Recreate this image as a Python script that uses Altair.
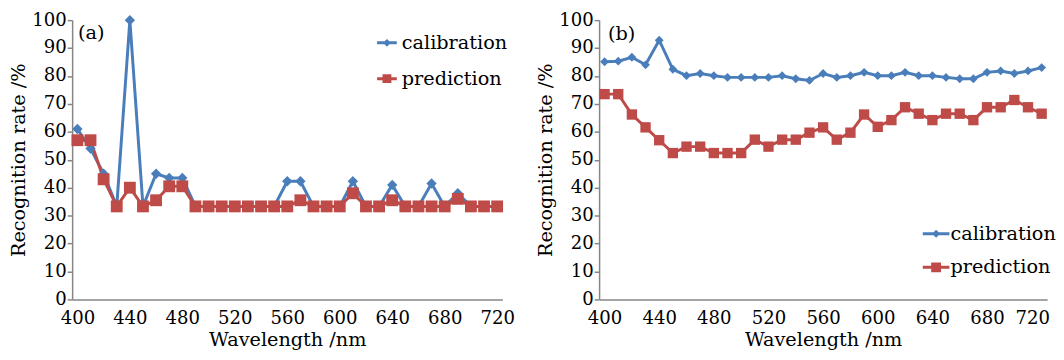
import altair as alt
import pandas as pd

wavelength = [400, 410, 420, 430, 440, 450, 460, 470, 480, 490, 500, 510, 520, 530, 540, 550,
              560, 570, 580, 590, 600, 610, 620, 630, 640, 650, 660, 670, 680, 690, 700, 710, 720]

a_calibration = [61, 54, 45, 33.3, 100, 33.3, 45, 43.5, 43.5, 33.3, 33.3, 33.3, 33.3, 33.3, 33.3, 33.3,
                 42.3, 42.3, 33.3, 33.3, 33.3, 42.3, 33.3, 33.3, 41, 33.3, 33.3, 41.5, 33.3, 38, 33.3, 33.3, 33.3]
a_prediction = [57, 57, 43, 33.3, 40, 33.3, 35.5, 40.5, 40.5, 33.3, 33.3, 33.3, 33.3, 33.3, 33.3, 33.3,
                33.3, 35.5, 33.3, 33.3, 33.3, 38, 33.3, 33.3, 35.5, 33.3, 33.3, 33.3, 33.3, 36, 33.3, 33.3, 33.3]

b_calibration = [85.1, 85.3, 86.7, 84, 92.8, 82.4, 80.1, 80.9, 80.1, 79.5, 79.5, 79.5, 79.5, 80.1, 79, 78.4,
                 80.9, 79.5, 80.1, 81.3, 80.1, 80.1, 81.3, 80.1, 80.1, 79.5, 79, 79, 81.3, 81.8, 80.9, 81.8, 83]
b_prediction = [73.5, 73.5, 66.2, 61.6, 57, 52.4, 54.7, 54.7, 52.4, 52.4, 52.4, 57.2, 54.7, 57.2, 57.2, 59.7,
                61.6, 57.2, 59.7, 66.2, 61.8, 64.2, 68.8, 66.5, 64.2, 66.5, 66.5, 64.2, 68.8, 68.8, 71.4, 68.8, 66.5]

series = ["calibration", "prediction"]
colors = ["#4A7EBB", "#BE4B48"]
x_ticks = [400, 440, 480, 520, 560, 600, 640, 680, 720]
y_ticks = [0, 10, 20, 30, 40, 50, 60, 70, 80, 90, 100]

FONT = "DejaVu Serif"
LABEL_FS = 18.3
TITLE_FS = 19.5
PLOT_H = 283


def legend_paths(line_half, dia, sq):
    line = f"M-1,-{line_half}L1,-{line_half}L1,{line_half}L-1,{line_half}Z"
    dpath = line + f"M0,-{dia}L{dia},0L0,{dia}L-{dia},0Z"
    spath = line + f"M-{sq},-{sq}L{sq},-{sq}L{sq},{sq}L-{sq},{sq}Z"
    return [dpath, spath]


def panel(cal, pred, tag, width, lx, ly, sym_size, line_half, dia, sq,
          dsize, ssize, label_offset, row_pad, tag_x, tag_y, last_flush):
    df = pd.DataFrame({
        "wl": wavelength + wavelength,
        "val": cal + pred,
        "series": ["calibration"] * len(cal) + ["prediction"] * len(pred),
    })
    xaxis_kw = dict(values=x_ticks, title="Wavelength /nm", ticks=False, tickSize=0,
                    labelPadding=10, titlePadding=4, format="d")
    if last_flush:
        xaxis_kw["labelAlign"] = {"condition": {"test": "datum.value == 720", "value": "right"},
                                  "value": "center"}
        xaxis_kw["labelOffset"] = {"condition": {"test": "datum.value == 720", "value": 8},
                                   "value": 0}
    x = alt.X("wl:Q", scale=alt.Scale(domain=[396, 724], nice=False, zero=False),
              axis=alt.Axis(**xaxis_kw))
    y = alt.Y("val:Q", scale=alt.Scale(domain=[0, 100], nice=False, zero=True),
              axis=alt.Axis(values=y_ticks, title="Recognition rate /%", ticks=True, tickSize=5,
                            labelPadding=1, titlePadding=3))
    cscale = alt.Scale(domain=series, range=colors)
    base = alt.Chart(df)
    leg = base.transform_filter(alt.datum.wl < 0).mark_point(
        filled=True, opacity=1, strokeWidth=0).encode(
        x=x, y=y,
        color=alt.Color("series:N", scale=cscale, legend=alt.Legend(
            title=None, orient="none", legendX=lx, legendY=ly, padding=0,
            labelFont=FONT, labelFontSize=TITLE_FS, labelColor="black",
            labelOffset=label_offset, rowPadding=row_pad, symbolSize=sym_size,
            symbolStrokeWidth=0, symbolOpacity=1)),
        shape=alt.Shape("series:N", scale=alt.Scale(domain=series,
                                                    range=legend_paths(line_half, dia, sq))),
    )
    line = base.mark_line(strokeWidth=3).encode(
        x=x, y=y, color=alt.Color("series:N", scale=cscale, legend=None))
    p_cal = base.transform_filter(alt.datum.series == "calibration").mark_point(
        filled=True, opacity=1, strokeWidth=0, shape="diamond", size=dsize).encode(
        x=x, y=y, color=alt.Color("series:N", scale=cscale, legend=None))
    p_pred = base.transform_filter(alt.datum.series == "prediction").mark_point(
        filled=True, opacity=1, strokeWidth=0, shape="square", size=ssize).encode(
        x=x, y=y, color=alt.Color("series:N", scale=cscale, legend=None))
    txt = alt.Chart(pd.DataFrame({"t": [tag]})).mark_text(
        align="left", baseline="middle", font=FONT, fontSize=TITLE_FS, color="black"
    ).encode(x=alt.value(tag_x), y=alt.value(tag_y), text="t:N")
    return alt.layer(leg, line, p_cal, p_pred, txt).properties(width=width, height=PLOT_H)


pa = panel(a_calibration, a_prediction, "(a)", 436, 309, 13, 400, 0.15, 0.4, 0.45,
           110, 144, 5, 16.3, 6, 13, False)
pb = panel(b_calibration, b_prediction, "(b)", 454, 328, 203, 729, 0.11, 0.3, 0.37,
           80, 110, 1, 11, 9, 14, True)

chart = alt.hconcat(pa, pb, spacing=21).resolve_scale(
    color="independent", shape="independent"
).resolve_legend(color="independent", shape="independent").properties(
    padding={"left": 1, "top": 0, "right": 0, "bottom": 0}
).configure_axis(
    grid=False, domainColor="#868686", domainWidth=1.5, tickColor="#868686", tickWidth=1.5,
    labelFont=FONT, labelFontSize=LABEL_FS, labelColor="black",
    titleFont=FONT, titleFontSize=TITLE_FS, titleFontWeight="normal", titleColor="black",
).configure_view(stroke=None)

chart.save("out.html", embed_options={"renderer": "svg", "actions": False})
